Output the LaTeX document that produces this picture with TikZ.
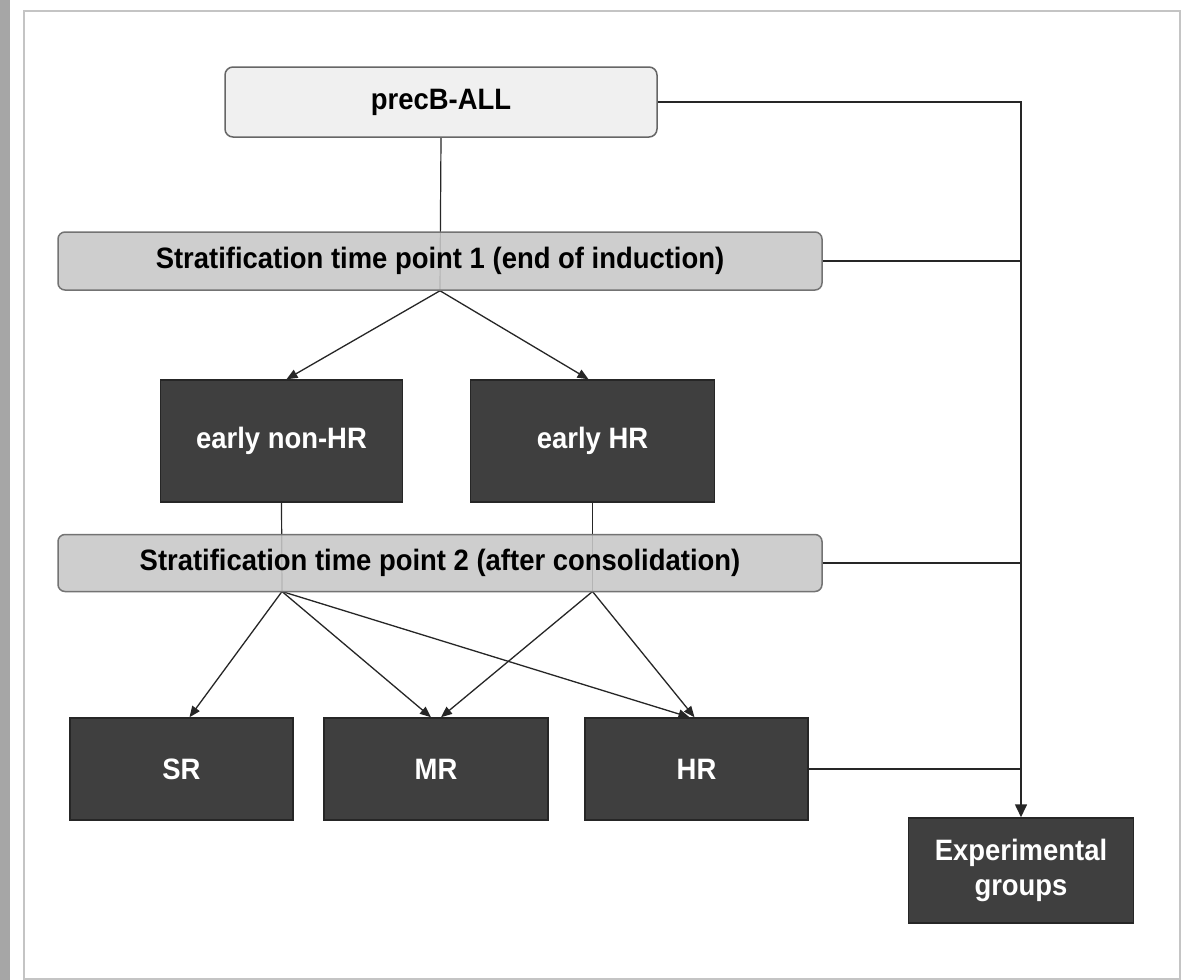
\documentclass[tikz,border=0pt]{standalone}
\usepackage{fontspec}
\setmainfont{Liberation Sans}
\newfontfamily\boxfont{Liberation Sans}[FakeStretch=0.93]
\usetikzlibrary{arrows.meta,backgrounds}
\definecolor{framegray}{HTML}{C4C4C4}
\definecolor{bargray}{HTML}{A6A6A6}
\definecolor{paleBox}{HTML}{F0F0F0}
\definecolor{stratBox}{HTML}{C8C8C8}
\definecolor{darkBox}{HTML}{3F3F3F}
\definecolor{lineCol}{HTML}{262626}
\tikzset{
  lbl/.style={font=\boxfont\fontsize{29.5}{35}\selectfont\bfseries, align=center, inner sep=0pt},
  topbox/.style={lbl, draw=black!60, line width=1.5pt, fill=paleBox, rounded corners=8pt, text=black},
  stratbox/.style={lbl, draw=black!55, line width=1.5pt, fill=stratBox, fill opacity=0.88, text opacity=1, rounded corners=7pt, text=black},
  darkbox/.style={lbl, draw=black!85, line width=1.5pt, fill=darkBox, text=white},
  conn/.style={draw=lineCol, line width=1.6pt},
  arr/.style={draw=lineCol, line width=1.3pt, -{Triangle[length=11pt,width=9pt]}},
  bigarr/.style={draw=lineCol, line width=1.6pt, -{Triangle[length=13pt,width=12pt]}}
}
\begin{document}
\begin{tikzpicture}[x=1pt,y=-1pt]
\useasboundingbox (0,0) rectangle (1187,980);
% nodes
\node[topbox, minimum width=432pt, minimum height=70pt] (pre) at (441,102) {precB-ALL};
\node[stratbox, minimum width=764pt, minimum height=58pt] (s1) at (440,261) {Stratification time point 1 (end of induction)};
\node[darkbox, minimum width=242pt, minimum height=122pt] (enh) at (281.5,441) {early non-HR};
\node[darkbox, minimum width=244pt, minimum height=122pt] (ehr) at (592.5,441) {early HR};
\node[stratbox, minimum width=764pt, minimum height=57pt] (s2) at (440,563) {Stratification time point 2 (after consolidation)};
\node[darkbox, minimum width=223pt, minimum height=102pt] (sr) at (181.5,769) {SR};
\node[darkbox, minimum width=224pt, minimum height=102pt] (mr) at (436,769) {MR};
\node[darkbox, minimum width=223pt, minimum height=102pt] (hr) at (696.5,769) {HR};
\node[darkbox, minimum width=225pt, minimum height=105pt] (exp) at (1021,870.5) {Experimental\\groups};
\coordinate (e1) at (282,591.5);
\coordinate (e2) at (592.5,591.5);
\begin{pgfonlayer}{background}
  \fill[white] (0,0) rectangle (1187,980);
  \fill[bargray] (0,0) rectangle (10,980);
  \draw[framegray, line width=2pt] (24,11) rectangle (1180,979);
  % vertical links through stratification boxes
  \draw[conn, line width=1.2pt] (pre.south) -- (s1.south);
  \draw[conn, line width=1.2pt] (enh.south) -- (e1);
  \draw[conn, line width=1.2pt] (ehr.south) -- (e2);
  % right bus
  \draw[bigarr] (pre.east) -| (exp.north);
  \draw[conn] (s1.east) -- (s1.east -| exp.north);
  \draw[conn] (s2.east) -- (s2.east -| exp.north);
  \draw[conn] (hr.east) -- (hr.east -| exp.north);
  % arrows
  \draw[arr] (s1.south) -- ([xshift=5pt]enh.north);
  \draw[arr] (s1.south) -- ([xshift=-4pt]ehr.north);
  \draw[arr] (e1) -- ([xshift=8pt]sr.north);
  \draw[arr] (e1) -- ([xshift=-5pt]mr.north);
  \draw[arr] (e1) -- ([xshift=-7pt]hr.north);
  \draw[arr] (e2) -- ([xshift=5pt]mr.north);
  \draw[arr] (e2) -- ([xshift=-2pt]hr.north);
\end{pgfonlayer}
\end{tikzpicture}
\end{document}
